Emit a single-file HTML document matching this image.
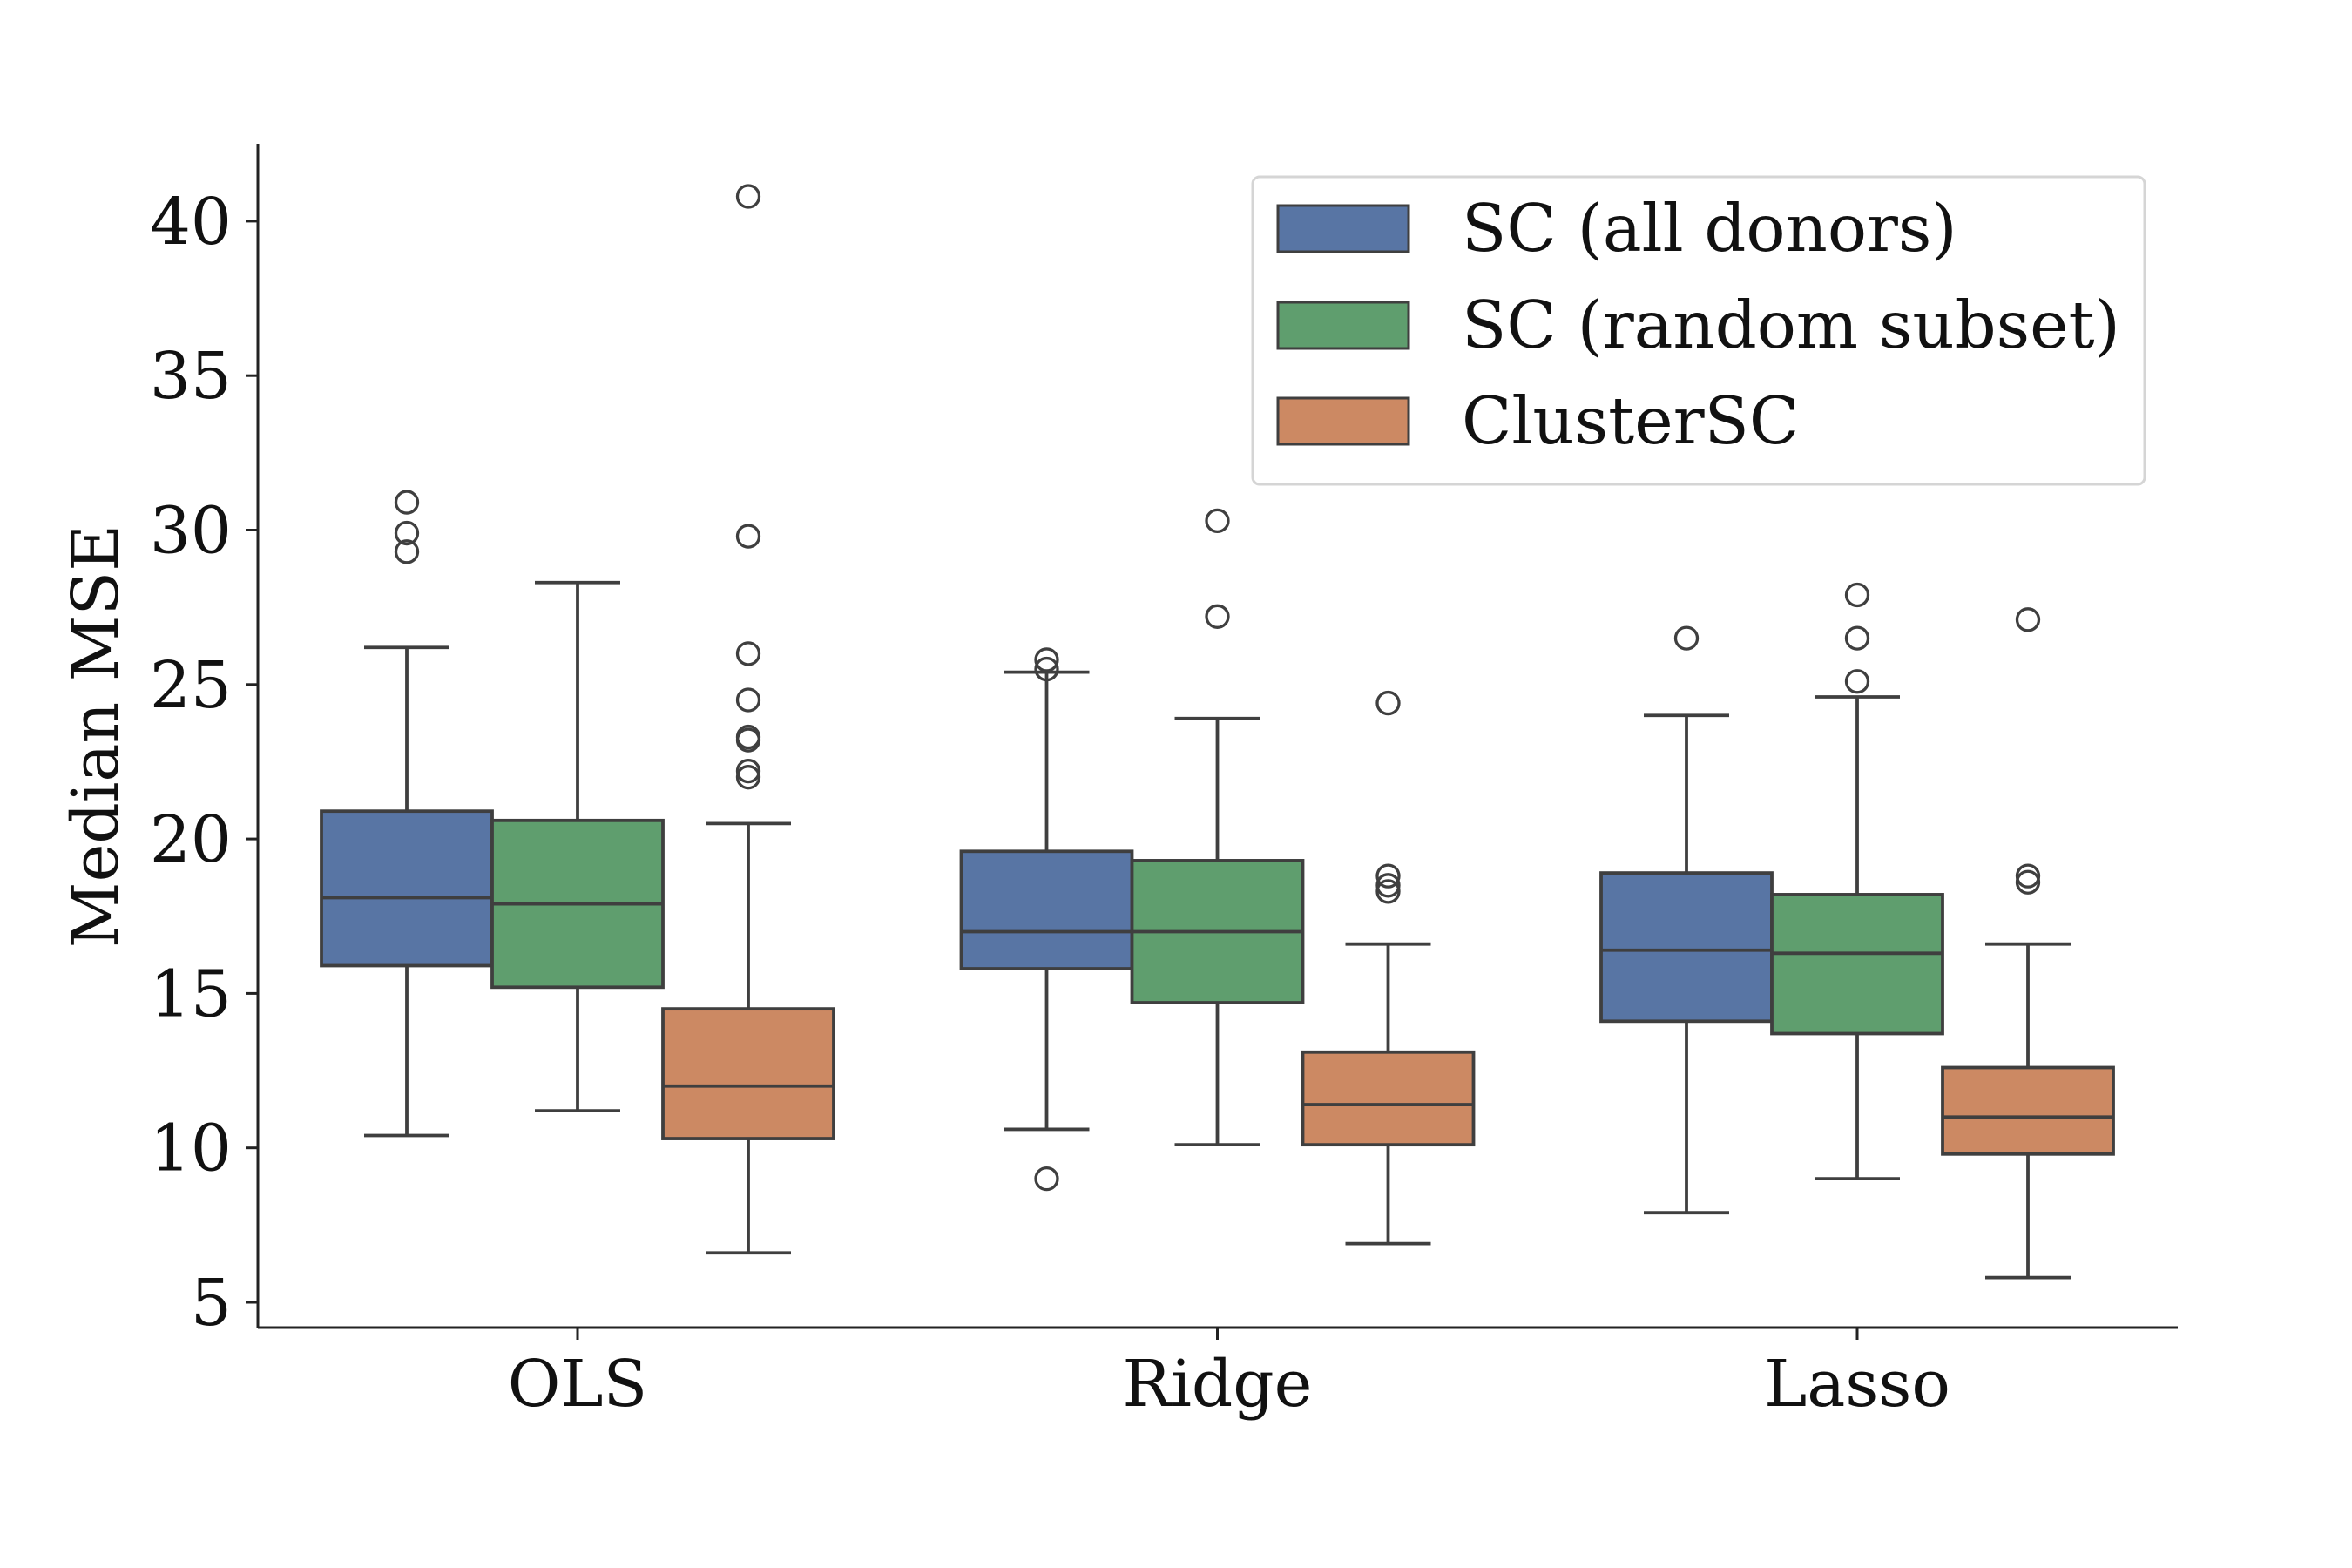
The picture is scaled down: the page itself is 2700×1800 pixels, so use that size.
<!DOCTYPE html>
<html><head><meta charset="utf-8"><style>
html,body{margin:0;padding:0;background:#fff}
svg{display:block}
text{font-family:"DejaVu Serif","Liberation Serif",serif;fill:#111}
</style></head><body>
<svg id="chart" width="2700" height="1800" viewBox="0 0 2700 1800" xmlns="http://www.w3.org/2000/svg">
<rect width="2700" height="1800" fill="#fff"/>
<g id="axes"></g>
<g id="boxes"></g>
<text transform="translate(135,845) rotate(-90)" text-anchor="middle" font-size="74">Median MSE</text>
<g>
<rect x="1438" y="203" width="1024" height="353" rx="8" fill="#fff" stroke="#d5d5d5" stroke-width="3"/>
<rect x="1467" y="236" width="150" height="53" fill="#5875a4" stroke="#3f3f3f" stroke-width="3"/>
<text x="1678" y="288" font-size="75">SC (all donors)</text>
<rect x="1467" y="347" width="150" height="53" fill="#5f9e6e" stroke="#3f3f3f" stroke-width="3"/>
<text x="1678" y="399" font-size="75">SC (random subset)</text>
<rect x="1467" y="457" width="150" height="53" fill="#cc8963" stroke="#3f3f3f" stroke-width="3"/>
<text x="1678" y="509" font-size="75">ClusterSC</text>
</g>
</svg>
<script>
const categories = ["OLS","Ridge","Lasso"];
const seriesNames = ["SC (all donors)","SC (random subset)","ClusterSC"];
const seriesColors = ["#5875a4","#5f9e6e","#cc8963"];
const yTicks = [5,10,15,20,25,30,35,40];
// [whiskerLow, q1, median, q3, whiskerHigh] per category
const scAll = [[10.4,15.9,18.1,20.9,26.2],[10.6,15.8,17.0,19.6,25.4],[7.9,14.1,16.4,18.9,24.0]];
const scRandom = [[11.2,15.2,17.9,20.6,28.3],[10.1,14.7,17.0,19.3,23.9],[9.0,13.7,16.3,18.2,24.6]];
const clusterSC = [[6.6,10.3,12.0,14.5,20.5],[6.9,10.1,11.4,13.1,16.6],[5.8,9.8,11.0,12.6,16.6]];
const scAllOut = [[29.3,29.9,30.9],[25.5,25.8,9.0],[26.5]];
const scRandomOut = [[],[27.2,30.3],[25.1,26.5,27.9]];
const clusterOut = [[22.0,22.2,23.2,23.3,24.5,26.0,29.8,40.8],[18.3,18.5,18.8,24.4],[18.6,18.8,27.1]];

const NS="http://www.w3.org/2000/svg";
const L=296,R=2500,T=165,B=1524;
const y=v=>1495-(v-5)*35.46;
const xc=i=>663+i*734.5;
const BW=196, off=[-196,0,196];
function mk(tag,attrs,parent){const e=document.createElementNS(NS,tag);for(const k in attrs)e.setAttribute(k,attrs[k]);parent.appendChild(e);return e;}
const ax=document.getElementById('axes'), bx=document.getElementById('boxes');
let e=mk('line',{x1:L,y1:T,x2:L,y2:B,stroke:'#222','stroke-width':3},ax);


e=mk('line',{x1:L,y1:B,x2:R,y2:B,stroke:'#222','stroke-width':3},ax);


yTicks.forEach(t=>{
  mk('line',{x1:L-14,y1:y(t),x2:L,y2:y(t),stroke:'#222','stroke-width':3},ax);
  const tx=mk('text',{x:L-30,y:y(t)+26,'text-anchor':'end','font-size':74},ax);
  tx.textContent=t;
  
  
});
categories.forEach((c,i)=>{
  mk('line',{x1:xc(i),y1:B,x2:xc(i),y2:B+14,stroke:'#222','stroke-width':3},ax);
  const tx=mk('text',{x:xc(i),y:B+90,'text-anchor':'middle','font-size':74},ax);
  tx.textContent=c;
  
  
});
const all=[scAll,scRandom,clusterSC], outs=[scAllOut,scRandomOut,clusterOut];
const st={stroke:'#3f3f3f','stroke-width':3.8};
all.forEach((ser,s)=>{
  ser.forEach((d,i)=>{
    const cx=xc(i)+off[s];
    const g=mk('g',{},bx);
    
    
    mk('line',Object.assign({x1:cx,y1:y(d[0]),x2:cx,y2:y(d[1])},st),g);
    mk('line',Object.assign({x1:cx,y1:y(d[3]),x2:cx,y2:y(d[4])},st),g);
    mk('line',Object.assign({x1:cx-49,y1:y(d[0]),x2:cx+49,y2:y(d[0])},st),g);
    mk('line',Object.assign({x1:cx-49,y1:y(d[4]),x2:cx+49,y2:y(d[4])},st),g);
    mk('rect',Object.assign({x:cx-BW/2,y:y(d[3]),width:BW,height:y(d[1])-y(d[3]),fill:seriesColors[s]},st),g);
    mk('line',Object.assign({x1:cx-BW/2,y1:y(d[2]),x2:cx+BW/2,y2:y(d[2])},st),g);
    outs[s][i].forEach(v=>{
      const o=mk('circle',{cx:cx,cy:y(v),r:12.5,fill:'none',stroke:'#3f3f3f','stroke-width':3.3},g);
      
      
    });
  });
});
</script>
</body></html>
